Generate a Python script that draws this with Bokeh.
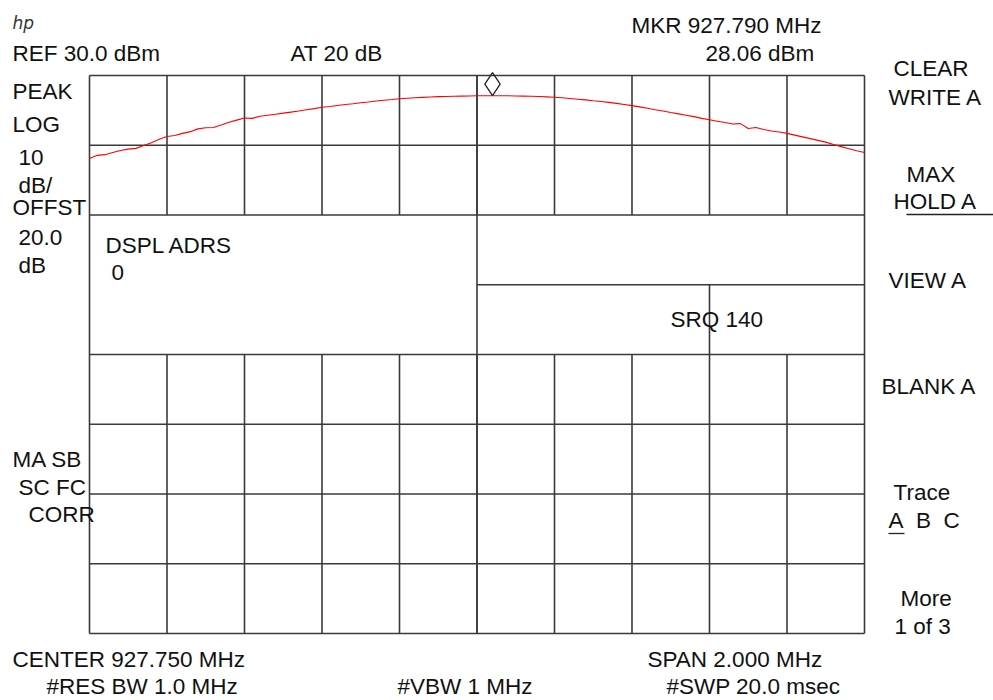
import numpy as np
from bokeh.plotting import figure
from bokeh.models import Label, Range1d
from bokeh.embed import file_html
from bokeh.resources import INLINE

# ---------------- data ----------------
center_mhz = 927.750
span_mhz = 2.000
ref_dbm = 30.0
db_per_div = 10.0
n_vdiv = 8
n_hdiv = 10

marker_freq = 927.790
marker_amp = 28.06

trace_dbm = [
    18.10, 18.55, 18.65, 18.95, 19.25, 19.45, 19.55, 19.95, 20.35, 20.85,
    21.25, 21.40, 21.70, 21.95, 22.35, 22.50, 22.55, 22.90, 23.30, 23.60,
    23.90, 23.85, 24.15, 24.30, 24.45, 24.60, 24.75, 24.90, 25.10, 25.25,
    25.45, 25.55, 25.70, 25.85, 25.95, 26.10, 26.20, 26.35, 26.45, 26.55,
    26.66, 26.73, 26.80, 26.87, 26.92, 26.97, 27.00, 27.03, 27.05, 27.07,
    27.09, 27.10, 27.10, 27.10, 27.09, 27.07, 27.05, 27.02, 26.98, 26.93,
    26.88, 26.80, 26.70, 26.60, 26.50, 26.38, 26.27, 26.15, 26.00, 25.85,
    25.68, 25.50, 25.30, 25.10, 24.92, 24.70, 24.50, 24.30, 24.10, 23.85,
    23.65, 23.45, 23.25, 23.05, 23.10, 22.40, 22.55, 22.25, 22.05, 21.90,
    21.70, 21.45, 21.20, 20.95, 20.70, 20.45, 20.10, 19.80, 19.50, 19.20,
    18.95,
]

NB = "\u00a0"
labels = [
    ("REF 30.0 dBm", 12, 53), ("AT 20 dB", 290, 53),
    ("MKR 927.790 MHz", 631, 25), ("28.06 dBm", 705, 53),
    ("PEAK", 12, 91), ("LOG", 12, 124), ("10", 18, 157), ("dB/", 18, 185),
    ("OFFST", 12, 207), ("20.0", 18, 237), ("dB", 18, 265),
    ("DSPL ADRS", 105, 245), ("0", 111, 272), ("SRQ 140", 670, 319),
    ("MA SB", 12, 459), ("SC FC", 18, 487), ("CORR", 28, 514),
    ("CENTER 927.750 MHz", 12, 659), ("SPAN 2.000 MHz", 647, 659),
    ("#RES BW 1.0 MHz", 46, 686), ("#VBW 1 MHz", 397, 686),
    ("#SWP 20.0 msec", 666, 686),
    ("CLEAR", 893, 68), ("WRITE A", 888, 97), ("MAX", 906, 174),
    ("HOLD A", 893, 201), ("VIEW A", 888, 280), ("BLANK A", 881, 386),
    ("Trace", 893, 492), ("A" + NB * 2 + "B" + NB * 2 + "C", 888, 520),
    ("More", 900, 598), ("1 of 3", 894, 626),
]

# ---------------- geometry ----------------
W, H = 993, 700
frame_l, frame_t, frame_w, frame_h = 89, 75, 775, 558
f_lo = center_mhz - span_mhz / 2
f_hi = center_mhz + span_mhz / 2
db_lo = ref_dbm - n_vdiv * db_per_div
px_per_mhz = frame_w / span_mhz
px_per_db = frame_h / (ref_dbm - db_lo)
x_start = f_lo - frame_l / px_per_mhz
x_end = x_start + W / px_per_mhz
y_end = ref_dbm + frame_t / px_per_db
y_start = y_end - H / px_per_db


def px(x, y):
    """canvas pixel -> data coordinates"""
    return x_start + x / px_per_mhz, y_end - y / px_per_db


p = figure(width=W, height=H, output_backend="svg", toolbar_location=None,
           x_range=Range1d(x_start, x_end), y_range=Range1d(y_start, y_end),
           x_axis_location=None, y_axis_location=None, min_border=0)
p.grid.visible = False
p.outline_line_color = None
p.background_fill_color = "white"
p.border_fill_color = "white"

# ---------------- graticule ----------------
fx = [f_lo + i * span_mhz / n_hdiv for i in range(n_hdiv + 1)]
dy = [ref_dbm - j * db_per_div for j in range(n_vdiv + 1)]
box_db = (ref_dbm - 2 * db_per_div, ref_dbm - 4 * db_per_div)
mid_db = ref_dbm - 3 * db_per_div
x0, y0, x1, y1 = [], [], [], []
for y in dy:
    x0.append(center_mhz if y == mid_db else f_lo)
    x1.append(f_hi)
    y0.append(y); y1.append(y)
for i, x in enumerate(fx):
    if 0 < i < n_hdiv:
        lower_top = mid_db if i == 8 else box_db[1]
        x0 += [x, x]; x1 += [x, x]
        y0 += [ref_dbm, lower_top]; y1 += [box_db[0], db_lo]
    else:
        x0.append(x); x1.append(x); y0.append(ref_dbm); y1.append(db_lo)
# centre line is continuous
x0.append(center_mhz); x1.append(center_mhz); y0.append(ref_dbm); y1.append(db_lo)
p.segment(x0, y0, x1, y1, line_color="#3a3a3a", line_width=1.6)

# ---------------- trace ----------------
freqs = np.linspace(f_lo, f_hi, len(trace_dbm))
p.line(freqs, trace_dbm, line_color="#ff0000", line_width=1.1)

# marker diamond sitting on the trace
m_idx = int(np.argmin(np.abs(freqs - marker_freq)))
m_y = trace_dbm[m_idx] + 11.5 / px_per_db
p.scatter([marker_freq], [m_y], marker="diamond", size=23,
          fill_color=None, line_color="#222222", line_width=1.3)

# ---------------- texts ----------------
FONT = "Liberation Sans"
for txt, x, y in labels:
    dx, dyy = px(x, y)
    p.add_layout(Label(x=dx, y=dyy, text=txt, text_font=FONT,
                       text_font_size="22.5px", text_color="#111111",
                       text_align="left", text_baseline="middle"))

lx, ly = px(12, 22)
p.add_layout(Label(x=lx, y=ly, text="hp", text_font="DejaVu Sans",
                   text_font_style="italic", text_font_size="17px",
                   text_color="#333333", text_align="left",
                   text_baseline="middle"))

# softkey separator under HOLD A and underline of trace A
sx0, sy0 = px(906, 214)
sx1, _ = px(993, 214)
ux0, uy0 = px(888, 533)
ux1, _ = px(904, 533)
p.segment([sx0, ux0], [sy0, uy0], [sx1, ux1], [sy0, uy0],
          line_color="#222222", line_width=1.3)

open("out.html", "w").write(file_html(p, INLINE))
